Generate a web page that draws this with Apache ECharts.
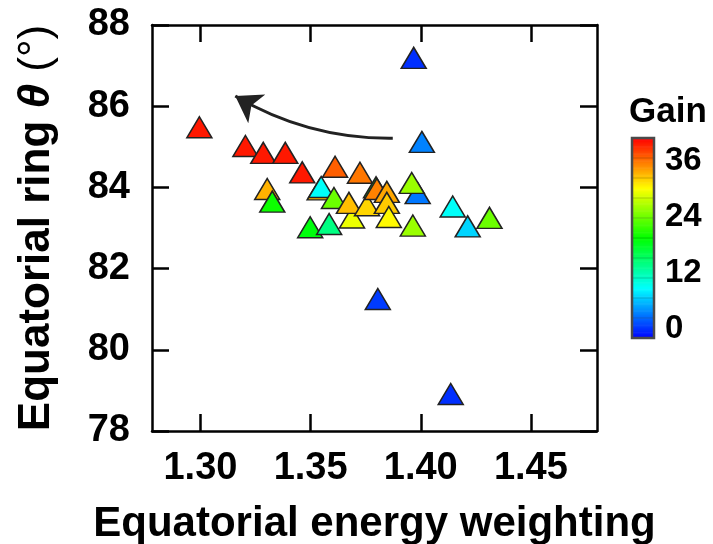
<!DOCTYPE html>
<html>
<head>
<meta charset="utf-8">
<script src="https://cdn.jsdelivr.net/npm/echarts@6/dist/echarts.min.js"></script>
<style>
  html, body { margin: 0; padding: 0; background: #fff; }
  #chart { width: 713px; height: 544px; }
</style>
</head>
<body>
<div id="chart"></div>
<script>
// Equatorial energy weighting vs. equatorial ring angle, coloured by gain.
// Points are listed in drawing order (later ones sit on top).
const weighting = [
  1.2995, 1.3204, 1.3285, 1.3385, 1.3462, 1.3611, 1.3303, 1.3326,
  1.3541, 1.3548, 1.3606, 1.3498, 1.3584, 1.3688, 1.3674, 1.3756,
  1.3724, 1.3797, 1.3801, 1.3846, 1.3846, 1.3855, 1.3986, 1.3959,
  1.3964, 1.4145, 1.4213, 1.4312, 1.3968, 1.4005, 1.3805, 1.4136
];
const ringTheta = [
  85.48, 85.02, 84.85, 84.85, 84.37, 84.51, 83.96, 83.65,
  83.95, 84.01, 83.74, 83.02, 83.10, 83.26, 83.62, 83.56,
  84.36, 84.00, 83.96, 83.89, 83.62, 83.27, 83.86, 84.11,
  83.06, 83.53, 83.04, 83.25, 87.19, 85.12, 81.25, 78.91
];
const gain = [
  40, 40, 40, 40, 40, 37, 33.5, 20,
  33, 9, 24, 19, 14, 29.5, 33, 32,
  36, 20, 35.5, 34, 32.5, 30.5, 3, 26,
  26, 9, 7, 24, 0, 3.5, 0.5, 0
];

const xTicks = [1.30, 1.35, 1.40, 1.45];
const xRange = [1.278, 1.48];
const yRange = [78, 88];
const yStep = 2;
const gainTicks = [0, 12, 24, 36];
const gainRange = [-2, 41];
const gainBands = 10;

// Trend arrow, tail then head, in data units
const arrowPath = [[1.3873, 85.21], [1.3158, 86.25]];

const FONT = '"Liberation Sans", Arial, Helvetica, sans-serif';
const jetStops = ['#0000ff', '#00ffff', '#00ff00', '#ffff00', '#ff0000'];

function hexToRgb(h) {
  return [parseInt(h.slice(1, 3), 16), parseInt(h.slice(3, 5), 16), parseInt(h.slice(5, 7), 16)];
}
function jetColor(v) {
  let t = (v - gainRange[0]) / (gainRange[1] - gainRange[0]);
  t = Math.max(0, Math.min(1, t));
  const seg = t * (jetStops.length - 1);
  const i = Math.min(jetStops.length - 2, Math.floor(seg));
  const f = seg - i;
  const a = hexToRgb(jetStops[i]), b = hexToRgb(jetStops[i + 1]);
  const c = a.map((x, k) => Math.round(x + (b[k] - x) * f));
  return 'rgb(' + c.join(',') + ')';
}

// Thin slices that fill the colour bar, plus the band edges drawn over it
const barSlices = [];
const sliceStep = 0.25;
for (let v = gainRange[0]; v < gainRange[1] - 1e-9; v += sliceStep) {
  barSlices.push([v, Math.min(gainRange[1], v + sliceStep)]);
}
const bandEdges = [];
for (let k = 1; k < gainBands; k++) {
  bandEdges.push([gainRange[0] + k * (gainRange[1] - gainRange[0]) / gainBands]);
}

const points = weighting.map((x, i) => [x, ringTheta[i], gain[i]]);
const yTicks = [];
for (let v = yRange[0]; v <= yRange[1] + 1e-9; v += yStep) yTicks.push(v);

const frameLine = { show: true, onZero: false, lineStyle: { color: '#000', width: 2.5 } };
const innerTick = (len) => ({ show: true, inside: true, length: len, lineStyle: { color: '#000', width: 2.5 } });

const chart = echarts.init(document.getElementById('chart'), null, { renderer: 'canvas' });

chart.setOption({
  animation: false,
  backgroundColor: '#fff',
  textStyle: { fontFamily: FONT },
  grid: [
    { left: 152, top: 25, width: 445, height: 406, containLabel: false, outerBoundsMode: 'none' },
    { left: 632, top: 138, width: 22, height: 200, containLabel: false, outerBoundsMode: 'none',
      show: true, z: 10, borderColor: '#4a4a4a', borderWidth: 2.5, backgroundColor: 'transparent' }
  ],
  xAxis: [
    {
      type: 'value', gridIndex: 0, position: 'bottom', min: xRange[0], max: xRange[1],
      axisLine: frameLine,
      axisTick: Object.assign(innerTick(17), { customValues: xTicks }),
      axisLabel: {
        customValues: xTicks, formatter: (v) => v.toFixed(2),
        color: '#000', fontSize: 38, fontWeight: 'bold', fontFamily: FONT, margin: 19
      },
      splitLine: { show: false },
      name: 'Equatorial energy weighting', nameLocation: 'middle', nameGap: 72,
      nameTextStyle: { color: '#000', fontSize: 42, fontWeight: 'bold', fontFamily: FONT }
    },
    {
      type: 'value', gridIndex: 0, position: 'top', min: xRange[0], max: xRange[1],
      axisLine: frameLine,
      axisTick: Object.assign(innerTick(17), { customValues: xTicks }),
      axisLabel: { show: false }, splitLine: { show: false }
    },
    { type: 'value', gridIndex: 1, min: 0, max: 1, show: false }
  ],
  yAxis: [
    {
      type: 'value', gridIndex: 0, position: 'left', min: yRange[0], max: yRange[1], interval: yStep,
      axisLine: frameLine,
      axisTick: Object.assign(innerTick(17), { customValues: yTicks }),
      axisLabel: {
        customValues: yTicks, color: '#000', fontSize: 38, fontWeight: 'bold', fontFamily: FONT, margin: 22
      },
      splitLine: { show: false },
      name: '{b|Equatorial ring }{i|θ}{n| (°)}', nameLocation: 'middle', nameGap: 93,
      nameTextStyle: {
        color: '#000', fontSize: 44, fontFamily: FONT,
        rich: {
          b: { fontSize: 44, fontWeight: 'bold', fontFamily: FONT, color: '#000' },
          i: { fontSize: 44, fontWeight: 'bold', fontStyle: 'italic', fontFamily: FONT, color: '#000' },
          n: { fontSize: 44, fontWeight: 'normal', fontFamily: FONT, color: '#000' }
        }
      }
    },
    {
      type: 'value', gridIndex: 0, position: 'right', min: yRange[0], max: yRange[1], interval: yStep,
      axisLine: frameLine,
      axisTick: Object.assign(innerTick(17), { customValues: yTicks }),
      axisLabel: { show: false }, splitLine: { show: false }
    },
    {
      type: 'value', gridIndex: 1, position: 'right', min: gainRange[0], max: gainRange[1],
      axisLine: { show: false },
      axisTick: { show: false },
      axisLabel: {
        customValues: gainTicks, color: '#000', fontSize: 33, fontWeight: 'bold', fontFamily: FONT, margin: 11
      },
      splitLine: { show: false }
    }
  ],
  visualMap: {
    type: 'continuous', show: false, seriesIndex: 0, dimension: 2,
    min: gainRange[0], max: gainRange[1],
    inRange: { color: jetStops }
  },
  graphic: [
    {
      type: 'text', x: 668, y: 112,
      style: { text: 'Gain', fill: '#000', font: 'bold 35px ' + FONT, textAlign: 'center', textVerticalAlign: 'middle' }
    }
  ],
  series: [
    {
      type: 'scatter', xAxisIndex: 0, yAxisIndex: 0, data: points,
      symbol: 'triangle', symbolSize: [25, 21],
      itemStyle: { borderColor: '#222', borderWidth: 1.5, opacity: 1 },
      emphasis: { disabled: true }, silent: true, z: 3
    },
    {
      type: 'lines', coordinateSystem: 'cartesian2d', xAxisIndex: 0, yAxisIndex: 0,
      data: [{ coords: arrowPath }],
      symbol: ['none', 'arrow'], symbolSize: 25,
      lineStyle: { color: '#222', width: 3, curveness: 0.14, opacity: 1 },
      itemStyle: { color: '#222' },
      silent: true, z: 4
    },
    {
      type: 'custom', xAxisIndex: 2, yAxisIndex: 2, data: barSlices, silent: true, z: 2,
      renderItem: function (params, api) {
        const lo = api.value(0), hi = api.value(1);
        const p0 = api.coord([0, lo]);
        const p1 = api.coord([1, hi]);
        return {
          type: 'rect',
          shape: { x: p0[0], y: p1[1], width: p1[0] - p0[0], height: p0[1] - p1[1] + 0.6 },
          style: { fill: jetColor((lo + hi) / 2) }
        };
      }
    },
    {
      type: 'custom', xAxisIndex: 2, yAxisIndex: 2, data: bandEdges, silent: true, z: 3,
      encode: { y: 0 },
      renderItem: function (params, api) {
        const v = api.value(0);
        const p0 = api.coord([0, v]);
        const p1 = api.coord([1, v]);
        return {
          type: 'line',
          shape: { x1: p0[0], y1: p0[1], x2: p1[0], y2: p1[1] },
          style: { stroke: 'rgba(0,0,0,0.2)', lineWidth: 1 }
        };
      }
    }
  ]
});
</script>
</body>
</html>
